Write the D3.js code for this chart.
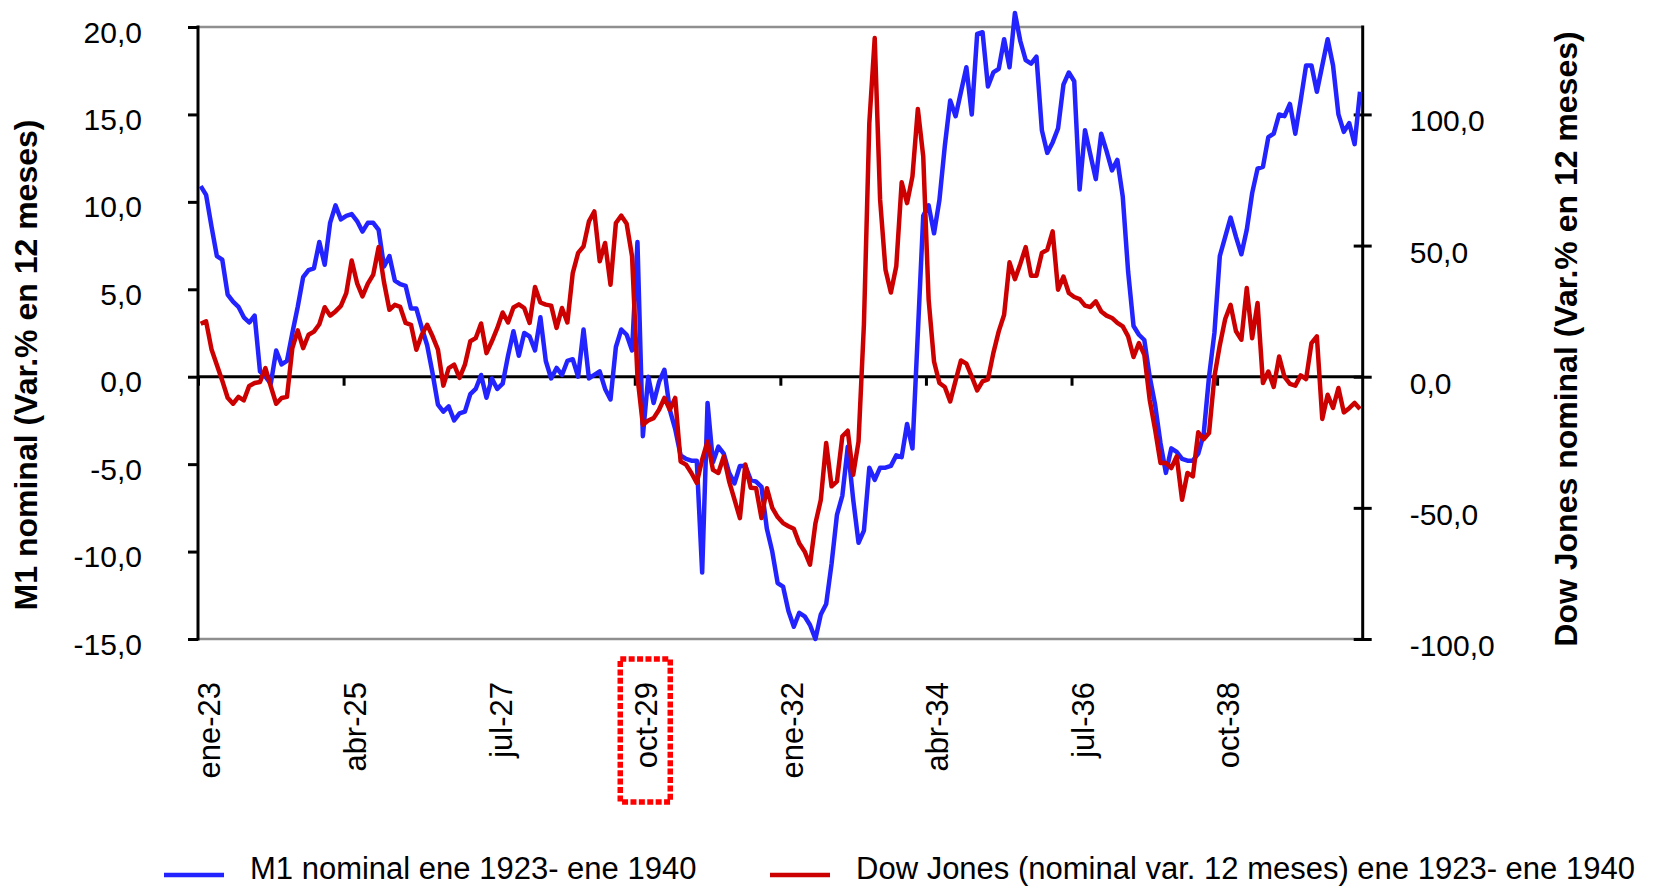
<!DOCTYPE html>
<html>
<head>
<meta charset="utf-8">
<script src="https://cdn.jsdelivr.net/npm/d3@7"></script>
<style>
  body { margin: 0; background: #fff; }
  svg { display: block; font-family: "Liberation Sans", Arial, sans-serif; }
  .axis path { display: none; }
  .axis line { stroke: #000; stroke-width: 3; }
  .axis text { fill: #000; font-size: 30px; }
</style>
</head>
<body>
<div id="chart"></div>
<script>
// month labels, Spanish abbreviations
var monthNames = ["ene", "feb", "mar", "abr", "may", "jun", "jul", "ago", "sep", "oct", "nov", "dic"];
var years = ["23", "24", "25", "26", "27", "28", "29", "30", "31", "32", "33", "34", "35", "36", "37", "38", "39", "40"];

// labels shown on the category axis
var tickLabels = ["ene-23", "abr-25", "jul-27", "oct-29", "ene-32", "abr-34", "jul-36", "oct-38"];
var highlighted = "oct-29";

// M1 nominal, % change over 12 months (left axis)
var m1 = [
  10.9, 10.4, 8.6, 6.9, 6.7, 4.7, 4.3, 4.0, 3.4, 3.1,
  3.5, 0.3, 0.0, -0.4, 1.5, 0.7, 0.9, 2.5, 4.0, 5.7,
  6.1, 6.2, 7.7, 6.4, 8.8, 9.8, 9.0, 9.2, 9.3, 8.9,
  8.3, 8.8, 8.8, 8.4, 6.3, 6.9, 5.5, 5.3, 5.2, 3.9,
  3.9, 2.8, 1.8, 0.2, -1.6, -2.0, -1.7, -2.5, -2.1, -2.0,
  -1.0, -0.7, 0.1, -1.2, -0.1, -0.7, -0.4, 1.2, 2.6, 1.2,
  2.5, 2.3, 1.5, 3.4, 0.9, -0.1, 0.5, 0.1, 0.9, 1.0,
  0.0, 2.7, -0.1, 0.1, 0.3, -0.7, -1.3, 1.7, 2.7, 2.4,
  1.5, 7.7, -3.4, 0.0, -1.5, -0.3, 0.4, -1.9, -3.0, -4.5,
  -4.7, -4.8, -4.8, -11.2, -1.5, -4.9, -4.0, -4.4, -5.5, -6.1,
  -5.1, -5.1, -5.9, -6.0, -6.3, -8.7, -10.0, -11.8, -12.0, -13.4,
  -14.3, -13.5, -13.7, -14.2, -15.0, -13.6, -13.0, -10.7, -7.9, -6.8,
  -4.0, -7.0, -9.5, -8.8, -5.2, -5.9, -5.2, -5.2, -5.1, -4.5,
  -4.6, -2.7, -4.1, 2.5, 9.2, 9.8, 8.2, 10.1, 13.2, 15.8,
  14.9, 16.3, 17.7, 15.0, 19.6, 19.7, 16.6, 17.4, 17.6, 19.3,
  17.7, 20.8, 19.2, 18.1, 17.9, 18.3, 14.1, 12.8, 13.4, 14.2,
  16.7, 17.4, 16.9, 10.7, 14.1, 12.7, 11.3, 13.9, 12.9, 11.8,
  12.4, 10.3, 6.0, 2.9, 2.4, 2.1, 0.0, -1.6, -3.8, -5.5,
  -4.1, -4.3, -4.7, -4.8, -4.8, -4.4, -3.3, 0.0, 2.5, 6.9,
  8.0, 9.1, 8.0, 7.0, 8.4, 10.5, 11.9, 12.0, 13.7, 13.9,
  15.0, 14.9, 15.6, 13.9, 15.8, 17.8, 17.8, 16.3, 17.8, 19.3,
  17.8, 15.0, 14.0, 14.5, 13.3, 16.3
];

// Dow Jones nominal, % change over 12 months (right axis)
var dowJones = [
  20.2, 21.1, 10.5, 4.5, -1.5, -8.0, -10.3, -7.7, -9.0, -3.5,
  -2.4, -2.0, 3.3, -3.7, -10.3, -8.1, -7.7, 10.9, 17.7, 10.9,
  16.0, 17.2, 20.0, 26.5, 23.3, 24.9, 27.0, 31.9, 44.3, 35.7,
  30.6, 35.5, 38.9, 49.4, 36.0, 25.5, 27.4, 26.6, 20.5, 19.8,
  10.3, 16.0, 19.8, 15.4, 10.3, -3.4, 3.3, 4.6, -0.5, 4.6,
  13.5, 14.7, 20.3, 9.0, 13.5, 18.5, 24.5, 20.7, 26.4, 27.6,
  26.2, 20.5, 34.2, 28.3, 27.5, 27.1, 18.6, 26.2, 20.7, 39.5,
  47.2, 49.7, 59.2, 63.0, 44.0, 51.0, 35.1, 58.6, 61.4, 58.3,
  45.9, 0.0, -18.3, -16.7, -15.8, -12.6, -8.1, -12.6, -8.1, -32.3,
  -33.5, -36.7, -40.5, -31.6, -24.7, -35.5, -36.7, -30.4, -39.9, -46.9,
  -53.9, -33.5, -42.3, -42.5, -53.9, -42.5, -50.0, -53.5, -55.8, -57.0,
  -58.0, -63.5, -66.6, -71.7, -56.0, -47.0, -25.3, -41.8, -39.9, -22.7,
  -20.6, -37.4, -24.7, 20.0, 96.7, 129.1, 67.5, 40.8, 32.1, 42.1,
  74.1, 66.2, 76.4, 102.1, 84.0, 29.4, 5.8, -2.4, -3.9, -9.4,
  -1.5, 6.2, 5.0, 0.0, -5.2, -1.8, -1.0, 9.0, 17.3, 23.6,
  43.6, 37.2, 43.0, 49.4, 38.5, 38.5, 47.2, 48.4, 55.4, 33.2,
  38.2, 31.9, 30.4, 29.6, 27.1, 26.6, 28.7, 24.9, 23.3, 22.4,
  20.5, 19.2, 15.4, 7.5, 12.8, 8.4, -8.8, -20.2, -32.9, -32.9,
  -34.8, -30.4, -46.9, -36.7, -38.0, -21.2, -23.8, -21.5, 0.0, 12.0,
  22.0, 27.4, 17.3, 14.1, 33.8, 14.7, 28.1, -2.4, 2.0, -3.9,
  7.7, -0.1, -2.7, -3.4, 0.5, -0.9, 12.8, 15.4, -16.1, -6.9,
  -11.9, -4.3, -13.6, -12.0, -10.0, -12.3
];

var leftTicks = [-15, -10, -5, 0, 5, 10, 15, 20];
var rightTicks = [-100, -50, 0, 50, 100];

var seriesNames = ["M1 nominal ene 1923- ene 1940", "Dow Jones (nominal var. 12 meses) ene 1923- ene 1940"];
var seriesColors = ["#2323ff", "#cc0000"];

// ---

var months = [];
years.forEach(function(y) {
  monthNames.forEach(function(m) { months.push(m + "-" + y); });
});

var width = 1658, height = 886;
var plot = {left: 198, right: 1362.7, top: 27, bottom: 639};

var locale = d3.formatLocale({decimal: ",", thousands: ".", grouping: [3], currency: ["", ""], minus: "-"});
var fmt = locale.format(".1f");

// category axis: one slot per month, ticks between slots
var x = d3.scaleLinear().domain([0, months.length]).range([plot.left, plot.right]);
var yL = d3.scaleLinear().domain([-15, 20]).range([plot.bottom, plot.top]);
var yR = d3.scaleLinear().domain([-100, 100 + 100 / 3]).range([plot.bottom, plot.top]);

var svg = d3.select("#chart").append("svg")
    .attr("width", width)
    .attr("height", height);

svg.append("rect").attr("width", width).attr("height", height).attr("fill", "#fff");

// plot area border (top / bottom)
[plot.top, plot.bottom].forEach(function(yy) {
  svg.append("line")
      .attr("x1", plot.left).attr("x2", plot.right)
      .attr("y1", yy).attr("y2", yy)
      .attr("stroke", "#8f8f8f")
      .attr("stroke-width", 2.5);
});

// Left axis
var gL = svg.append("g")
    .attr("class", "axis")
    .attr("transform", "translate(" + plot.left + ",0)")
    .call(d3.axisLeft(yL).tickValues(leftTicks).tickFormat(fmt).tickSize(10).tickPadding(46));
gL.selectAll("text").attr("dy", "0.5em");
svg.append("line")
    .attr("x1", plot.left).attr("x2", plot.left)
    .attr("y1", plot.top - 1.5).attr("y2", plot.bottom + 1.5)
    .attr("stroke", "#000").attr("stroke-width", 3);

// Right axis, ticks cross the axis line
var gR = svg.append("g")
    .attr("class", "axis")
    .attr("transform", "translate(" + plot.right + ",0)")
    .call(d3.axisRight(yR).tickValues(rightTicks).tickFormat(fmt).tickSize(9).tickPadding(38));
gR.selectAll(".tick line").attr("x1", -9);
gR.selectAll("text").attr("dy", "0.55em");
svg.append("line")
    .attr("x1", plot.right).attr("x2", plot.right)
    .attr("y1", plot.top - 1.5).attr("y2", plot.bottom + 1.5)
    .attr("stroke", "#000").attr("stroke-width", 3);

// Category axis sits on the zero line
var tickIdx = tickLabels.map(function(l) { return months.indexOf(l); });
var zeroY = yL(0);
var gX = svg.append("g")
    .attr("class", "axis")
    .attr("transform", "translate(0," + zeroY + ")")
    .call(d3.axisBottom(x).tickValues(tickIdx).tickFormat(function(i) { return months[i]; }).tickSize(9));
gX.selectAll(".tick text")
    .attr("y", null)
    .attr("dy", "0.35em")
    .attr("text-anchor", "end")
    .attr("transform", "translate(11," + (682 - zeroY) + ") rotate(-90)")
    .style("font-size", "31px");

svg.append("line")
    .attr("x1", plot.left).attr("x2", plot.right)
    .attr("y1", zeroY).attr("y2", zeroY)
    .attr("stroke", "#000").attr("stroke-width", 3);

// Lines: M1 on the left axis, Dow Jones on the right axis (drawn on top)
var lineL = d3.line()
    .x(function(d, i) { return x(i + 0.5); })
    .y(function(d) { return yL(d); });
var lineR = d3.line()
    .x(function(d, i) { return x(i + 0.5); })
    .y(function(d) { return yR(d); });

svg.append("path")
    .datum(m1)
    .attr("d", lineL)
    .attr("fill", "none")
    .attr("stroke", seriesColors[0])
    .attr("stroke-width", 4.5)
    .attr("stroke-linejoin", "round");

svg.append("path")
    .datum(dowJones)
    .attr("d", lineR)
    .attr("fill", "none")
    .attr("stroke", seriesColors[1])
    .attr("stroke-width", 4.5)
    .attr("stroke-linejoin", "round");

// dotted box around the crash month label
var hx = x(months.indexOf(highlighted));
svg.append("rect")
    .attr("x", hx - 14.5)
    .attr("y", 659)
    .attr("width", 50)
    .attr("height", 143)
    .attr("fill", "none")
    .attr("stroke", "#ff0000")
    .attr("stroke-width", 5.5)
    .attr("stroke-dasharray", "6 2.4");

// Axis titles
svg.append("text")
    .attr("transform", "translate(37,365) rotate(-90)")
    .attr("text-anchor", "middle")
    .style("font-size", "32px")
    .style("font-weight", "bold")
    .text("M1 nominal (Var.% en 12 meses)");

svg.append("text")
    .attr("transform", "translate(1577,339) rotate(-90)")
    .attr("text-anchor", "middle")
    .style("font-size", "32px")
    .style("font-weight", "bold")
    .text("Dow Jones nominal (Var.% en 12 meses)");

// Legend
var legendX = [164, 770];
var legend = svg.selectAll(".legend")
    .data(seriesNames)
    .enter().append("g")
    .attr("class", "legend")
    .attr("transform", function(d, i) { return "translate(" + legendX[i] + ",875)"; });

legend.append("line")
    .attr("x1", 0).attr("x2", 60)
    .attr("stroke", function(d, i) { return seriesColors[i]; })
    .attr("stroke-width", 4.5);

legend.append("text")
    .attr("x", 86)
    .attr("y", 4)
    .style("font-size", "31px")
    .text(function(d) { return d; });
</script>
</body>
</html>
